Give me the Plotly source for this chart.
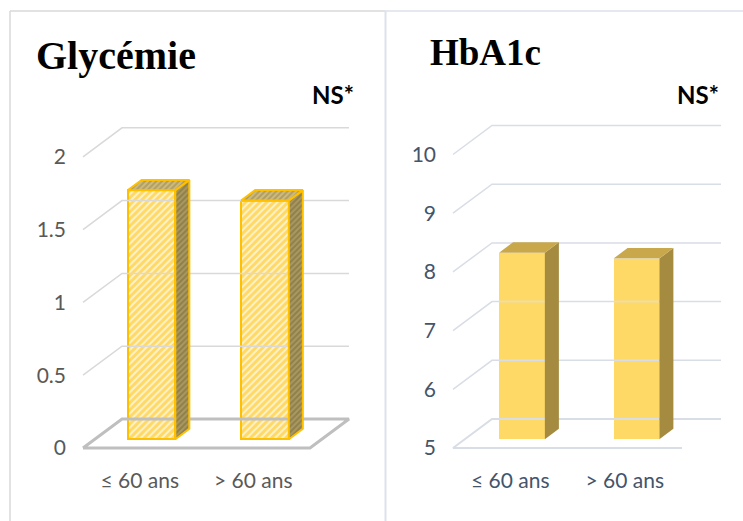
import plotly.graph_objects as go

# ---- data -------------------------------------------------------------
categories = ["≤ 60 ans", "> 60 ans"]
glycemie = [1.71, 1.64]
hba1c = [8.18, 8.08]
gly_ticks = [0, 0.5, 1, 1.5, 2]
gly_ticktext = ["0", "0.5", "1", "1.5", "2"]
hba_ticks = [5, 6, 7, 8, 9, 10]
hba_ticktext = ["5", "6", "7", "8", "9", "10"]

W, H = 743, 521


def x_range(p_left, p_right, p_origin, ppu):
    """data range for an x axis whose category -0.5 sits at pixel p_origin"""
    f = lambda p: (p - p_origin) / ppu - 0.5
    return [f(p_left), f(p_right)]


def y_range(p_base, ppu, v_base):
    f = lambda p: v_base + (p_base - p) / ppu
    return [f(H), f(0)]


# panel geometry (pixels)
L = dict(x0=83, xppu=113.5, y0=448, yppu=145.6, dom=(66, 385))
R = dict(x0=453, xppu=114.5, y0=448, yppu=58.7, dom=(436, 743))
DEPTH_PX = (39, 29)

fig = go.Figure()


def add_panel(cfg, values, ticks, base, xa, ya, grid_color, floor_style, bar_style, bar_w):
    dx = DEPTH_PX[0] / cfg["xppu"]
    dy = DEPTH_PX[1] / cfg["yppu"]
    # back wall gridlines with their slanted side-wall segment
    gx, gy = [], []
    for v in ticks:
        if v == base:
            continue
        gx += [-0.5, -0.5 + dx, 1.5 + dx, None]
        gy += [v, v + dy, v + dy, None]
    fig.add_trace(go.Scatter(x=gx, y=gy, mode="lines", xaxis=xa, yaxis=ya,
                             line=dict(color=grid_color, width=1.5),
                             hoverinfo="skip", showlegend=False))
    # floor
    if floor_style == "closed":
        fx = [-0.5, 1.5, 1.5 + dx, -0.5 + dx, -0.5]
        fy = [base, base, base + dy, base + dy, base]
        fig.add_trace(go.Scatter(x=fx, y=fy, mode="lines", xaxis=xa, yaxis=ya,
                                 line=dict(color="#BFBFBF", width=3),
                                 hoverinfo="skip", showlegend=False))
    else:
        fx = [1.5, -0.5, -0.5 + dx, 1.5 + dx]
        fy = [base, base, base + dy, base + dy]
        fig.add_trace(go.Scatter(x=fx, y=fy, mode="lines", xaxis=xa, yaxis=ya,
                                 line=dict(color=grid_color, width=2),
                                 hoverinfo="skip", showlegend=False))
    # 3-D bars: front face as a bar, side and top faces as polygons
    t0, t1 = 0.3, 0.66
    for i, v in enumerate(values):
        cx = i + t0 * dx
        b0 = base + t0 * dy
        top = b0 + (v - base)
        xl, xr = cx - bar_w / 2, cx + bar_w / 2
        ddx, ddy = (t1 - t0) * dx, (t1 - t0) * dy
        side_x = [xr, xr + ddx, xr + ddx, xr, xr]
        side_y = [b0, b0 + ddy, top + ddy, top, b0]
        top_x = [xl, xr, xr + ddx, xl + ddx, xl]
        top_y = [top, top, top + ddy, top + ddy, top]
        for px_, py_, key in ((side_x, side_y, "side"), (top_x, top_y, "top")):
            st = bar_style[key]
            kw = dict(x=px_, y=py_, mode="lines", fill="toself", xaxis=xa, yaxis=ya,
                      fillcolor=st["bg"], line=dict(color=bar_style["line"], width=bar_style["lw"]),
                      hoverinfo="skip", showlegend=False)
            if st.get("fg"):
                kw["fillpattern"] = dict(shape="/", fgcolor=st["fg"], bgcolor=st["bg"],
                                         size=st["size"], solidity=st["sol"])
            fig.add_trace(go.Scatter(**kw))
        fst = bar_style["front"]
        marker = dict(color=fst["bg"], line=dict(color=bar_style["line"], width=bar_style["lw"]))
        if fst.get("fg"):
            marker["pattern"] = dict(shape="/", fgcolor=fst["fg"], bgcolor=fst["bg"],
                                     size=fst["size"], solidity=fst["sol"])
        fig.add_trace(go.Bar(x=[cx], y=[v - base], base=[b0], width=bar_w,
                             xaxis=xa, yaxis=ya, marker=marker,
                             hoverinfo="skip", showlegend=False))


hatched = dict(
    line="#FFC000", lw=2,
    front=dict(bg="#FFF2CC", fg="#FFC000", size=5, sol=0.6),
    side=dict(bg="#A99862", fg="#76662E", size=4, sol=0.5),
    top=dict(bg="#CDBB80", fg="#93803E", size=4, sol=0.5),
)
solid = dict(
    line="rgba(0,0,0,0)", lw=0,
    front=dict(bg="#FFD966"),
    side=dict(bg="#A58B40"),
    top=dict(bg="#C8A84B"),
)

add_panel(L, glycemie, gly_ticks, 0, "x", "y", "#D9D9D9", "closed", hatched, 0.42)
add_panel(R, hba1c, hba_ticks, 5, "x2", "y2", "#D9DDE5", "open", solid, 0.40)

tick_font_l = dict(family="Lato", size=21, color="#595959")
tick_font_r = dict(family="Lato", size=21, color="#44546A")

fig.update_layout(
    width=W, height=H, margin=dict(l=0, r=0, t=0, b=0),
    paper_bgcolor="white", plot_bgcolor="rgba(0,0,0,0)",
    showlegend=False, bargap=0,
    xaxis=dict(domain=[L["dom"][0] / W, L["dom"][1] / W],
               range=x_range(*L["dom"], L["x0"], L["xppu"]),
               anchor="free", position=(H - 466) / H,
               tickvals=[0, 1], ticktext=categories, tickfont=tick_font_l,
               showgrid=False, zeroline=False, showline=False, ticks=""),
    yaxis=dict(domain=[0, 1], range=y_range(L["y0"], L["yppu"], 0),
               anchor="free", position=L["dom"][0] / W,
               tickvals=gly_ticks, ticktext=gly_ticktext, tickfont=tick_font_l,
               showgrid=False, zeroline=False, showline=False, ticks=""),
    xaxis2=dict(domain=[R["dom"][0] / W, R["dom"][1] / W],
                range=x_range(*R["dom"], R["x0"], R["xppu"]),
                anchor="free", position=(H - 466) / H,
                tickvals=[0, 1], ticktext=categories, tickfont=tick_font_r,
                showgrid=False, zeroline=False, showline=False, ticks=""),
    yaxis2=dict(domain=[0, 1], range=y_range(R["y0"], R["yppu"], 5),
                anchor="free", position=R["dom"][0] / W,
                tickvals=hba_ticks, ticktext=hba_ticktext, tickfont=tick_font_r,
                showgrid=False, zeroline=False, showline=False, ticks=""),
)


def px(x):
    return x / W


def py(y):
    return 1 - y / H


# panel frames
fig.add_shape(type="line", xref="paper", yref="paper", x0=px(10), x1=px(385), y0=py(11), y1=py(11),
              line=dict(color="#D9D9D9", width=1.5))
fig.add_shape(type="line", xref="paper", yref="paper", x0=px(10), x1=px(10), y0=py(11), y1=py(H),
              line=dict(color="#D9D9D9", width=1.5))
fig.add_shape(type="line", xref="paper", yref="paper", x0=px(385), x1=px(W), y0=py(11), y1=py(11),
              line=dict(color="#DCE2EA", width=1.5))
fig.add_shape(type="line", xref="paper", yref="paper", x0=px(385.5), x1=px(385.5), y0=py(11), y1=py(H),
              line=dict(color="#DCE2EA", width=2))

# titles and significance notes
fig.add_annotation(text="<b>Glycémie</b>", xref="paper", yref="paper", x=px(34), y=py(56),
                   xanchor="left", yanchor="middle", showarrow=False,
                   font=dict(family="Liberation Serif", size=40, color="black"))
fig.add_annotation(text="<b>HbA1c</b>", xref="paper", yref="paper", x=px(428), y=py(52),
                   xanchor="left", yanchor="middle", showarrow=False,
                   font=dict(family="Liberation Serif", size=37, color="black"))
ns_font = dict(family="Lato", size=24, color="black")
fig.add_annotation(text="<b>NS*</b>", xref="paper", yref="paper", x=px(356), y=py(95),
                   xanchor="right", yanchor="middle", showarrow=False, font=ns_font)
fig.add_annotation(text="<b>NS*</b>", xref="paper", yref="paper", x=px(721), y=py(95),
                   xanchor="right", yanchor="middle", showarrow=False, font=ns_font)

fig.write_html("out.html")
